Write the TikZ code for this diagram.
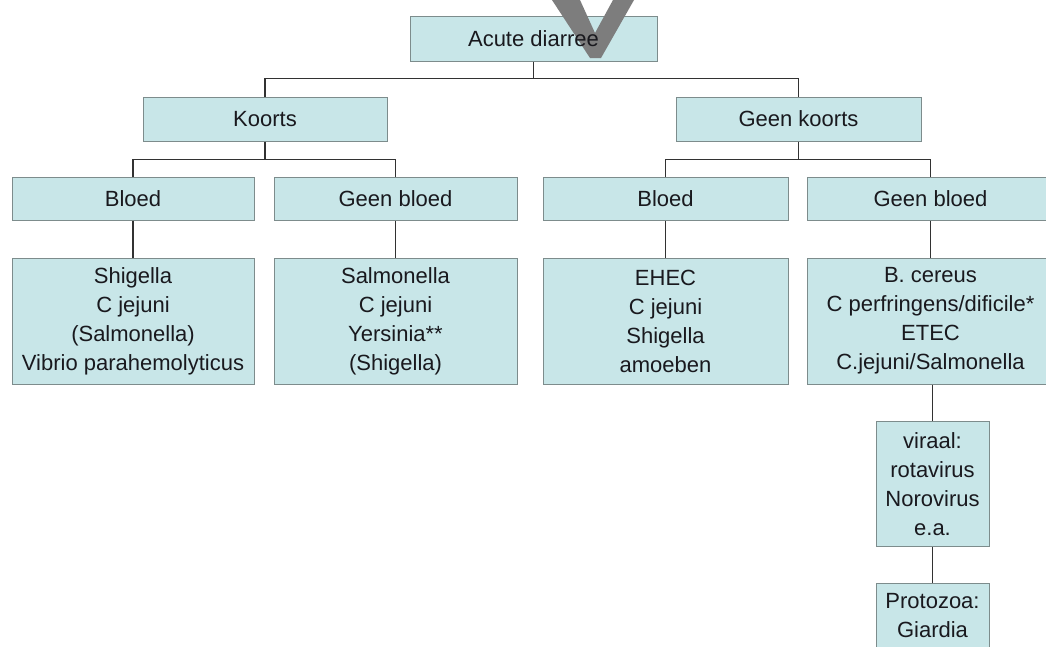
\documentclass[tikz,border=0pt]{standalone}
\usepackage{fontspec}
\setmainfont{Liberation Sans}
\definecolor{boxfill}{RGB}{200,230,232}
\definecolor{boxline}{RGB}{125,140,140}
\definecolor{linkline}{RGB}{50,50,50}
\definecolor{txt}{RGB}{25,25,30}
\definecolor{wmark}{RGB}{125,125,125}
\tikzset{
  tfont/.style={font=\fontsize{22}{29}\selectfont},
  tbox/.style={draw=boxline, line width=1pt, fill=boxfill, text=txt, align=center,
    inner sep=0pt, tfont},
  plaintext/.style={text=txt, align=center, inner sep=0pt, tfont},
  link/.style={draw=linkline, line width=1.4pt},
}
\begin{document}
\begin{tikzpicture}[x=1pt,y=-1pt]
\useasboundingbox (0,0) rectangle (1046,646);
\clip (0,0) rectangle (1046,646);
\fill[white] (0,0) rectangle (1046,646);
% top box, watermark over its fill, then its text
\node[tbox, minimum width=247pt, minimum height=45pt] (acute) at (533.5,38.5) {};
\fill[wmark] (552,0) -- (590,58) -- (601,58) -- (634,0) -- (613,0) -- (595,33) -- (580,0) -- cycle;
\node[plaintext] (acutetxt) at (acute.center) {Acute diarree};
% nodes
\node[tbox, minimum width=244pt, minimum height=44pt] (koorts) at (265,119) {Koorts};
\node[tbox, minimum width=245pt, minimum height=44pt] (gkoorts) at (798.5,119) {Geen koorts};
\node[tbox, minimum width=242pt, minimum height=43pt] (bl1) at (133,198.5) {Bloed};
\node[tbox, minimum width=243pt, minimum height=43pt] (gb1) at (395.5,198.5) {Geen bloed};
\node[tbox, minimum width=245pt, minimum height=43pt] (bl2) at (665.5,198.5) {Bloed};
\node[tbox, minimum width=247pt, minimum height=43pt] (gb2) at (930.5,198.5) {Geen bloed};
\node[tbox, minimum width=242pt, minimum height=126pt] (r1) at (133,321) {Shigella\\C jejuni\\(Salmonella)\\Vibrio parahemolyticus};
\node[tbox, minimum width=243pt, minimum height=126pt] (r2) at (395.5,321) {Salmonella\\C jejuni\\Yersinia**\\(Shigella)};
\node[tbox, minimum width=245pt, minimum height=126pt] (r3) at (665.5,321) {EHEC\\C jejuni\\Shigella\\amoeben};
\node[tbox, minimum width=247pt, minimum height=126pt] (r4) at (930.5,321) {B. cereus\\C perfringens/dificile*\\ETEC\\C.jejuni/Salmonella};
\node[tbox, minimum width=113pt, minimum height=125pt] (vir) at (932.5,484) {viraal:\\rotavirus\\Norovirus\\e.a.};
\node[tbox, minimum width=113pt, minimum height=100pt] (proto) at (932.5,633) {};
\node[plaintext, anchor=north] (prototxt) at (932.5,593) {Protozoa:\\Giardia};
% connectors
\draw[link] (acute.south) -- ++(0,17) coordinate (j0);
\draw[link] (koorts.north) |- (j0) -| (gkoorts.north);
\draw[link] (koorts.south) -- ++(0,18) coordinate (j1);
\draw[link] (bl1.north) |- (j1) -| (gb1.north);
\draw[link] (gkoorts.south) -- ++(0,18) coordinate (j2);
\draw[link] (bl2.north) |- (j2) -| (gb2.north);
\draw[link] (bl1.south) -- (r1.north);
\draw[link] (gb1.south) -- (r2.north);
\draw[link] (bl2.south) -- (r3.north);
\draw[link] (gb2.south) -- (r4.north);
\draw[link] (r4.south -| vir.north) -- (vir.north);
\draw[link] (vir.south) -- (proto.north);
\end{tikzpicture}
\end{document}
